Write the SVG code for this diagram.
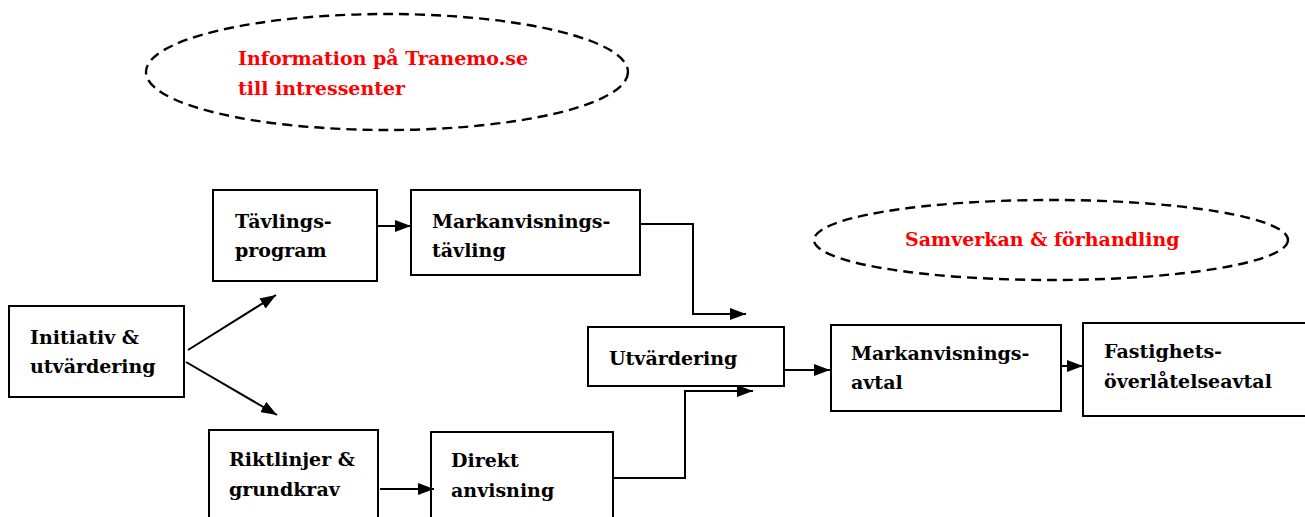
<svg xmlns="http://www.w3.org/2000/svg" width="1305" height="517" viewBox="0 0 1305 517">
<style>
.box{fill:#fff;stroke:#000;stroke-width:2}
.ell{fill:none;stroke:#000;stroke-width:2.4;stroke-dasharray:10 6}
.t{font-family:"DejaVu Serif","Liberation Serif",serif;font-weight:bold;font-size:19px;fill:#000}
.r{fill:#ff0000}
.c{fill:none;stroke:#000;stroke-width:2}
</style>
<defs>
<marker id="ah" viewBox="0 0 16 12" refX="16" refY="6" markerWidth="16" markerHeight="12" markerUnits="userSpaceOnUse" orient="auto">
<path d="M0,0 L16,6 L0,12 z" fill="#000"/>
</marker>
</defs>
<rect width="1305" height="517" fill="#fff"/>
<g id="info">
<ellipse class="ell" cx="387" cy="72" rx="241" ry="58"/>
<text class="t r" x="238" y="65">Information på Tranemo.se</text>
<text class="t r" x="238" y="95">till intressenter</text>
</g>
<g id="samverkan">
<ellipse class="ell" cx="1051" cy="240" rx="237" ry="40"/>
<text class="t r" x="905" y="246">Samverkan &amp; förhandling</text>
</g>
<g id="tavlingsprogram">
<rect class="box" x="213" y="190" width="164" height="91"/>
<text class="t" x="235" y="228">Tävlings-</text>
<text class="t" x="235" y="257">program</text>
</g>
<g id="markanvisningstavling">
<rect class="box" x="411" y="190" width="229" height="85"/>
<text class="t" x="432" y="228">Markanvisnings-</text>
<text class="t" x="432" y="257">tävling</text>
</g>
<g id="initiativ">
<rect class="box" x="9" y="306" width="175" height="91"/>
<text class="t" x="30" y="344">Initiativ &amp;</text>
<text class="t" x="30" y="373">utvärdering</text>
</g>
<g id="utvardering">
<rect class="box" x="588" y="327" width="196" height="59"/>
<text class="t" x="609" y="365">Utvärdering</text>
</g>
<g id="markanvisningsavtal">
<rect class="box" x="831" y="325" width="230" height="86"/>
<text class="t" x="851" y="360">Markanvisnings-</text>
<text class="t" x="851" y="389">avtal</text>
</g>
<g id="fastighets">
<rect class="box" x="1083" y="323" width="224" height="93"/>
<text class="t" x="1104" y="358">Fastighets-</text>
<text class="t" x="1104" y="388">överlåtelseavtal</text>
</g>
<g id="riktlinjer">
<rect class="box" x="209" y="430" width="169" height="100"/>
<text class="t" x="229" y="466">Riktlinjer &amp;</text>
<text class="t" x="229" y="496">grundkrav</text>
</g>
<g id="direkt">
<rect class="box" x="431" y="432" width="182" height="100"/>
<text class="t" x="451" y="467">Direkt</text>
<text class="t" x="451" y="497">anvisning</text>
</g>
<g id="connectors">
<path class="c" d="M188,350 L276,295" marker-end="url(#ah)"/>
<path class="c" d="M186,362 L277,415" marker-end="url(#ah)"/>
<path class="c" d="M376,226 L411,226" marker-end="url(#ah)"/>
<path class="c" d="M641,224 L693,224 L693,314 L746,314" marker-end="url(#ah)"/>
<path class="c" d="M785,370 L830,370" marker-end="url(#ah)"/>
<path class="c" d="M1061,366 L1083,366" marker-end="url(#ah)"/>
<path class="c" d="M380,489 L434,489" marker-end="url(#ah)"/>
<path class="c" d="M614,478 L685,478 L685,391 L753,391" marker-end="url(#ah)"/>
</g>
</svg>
